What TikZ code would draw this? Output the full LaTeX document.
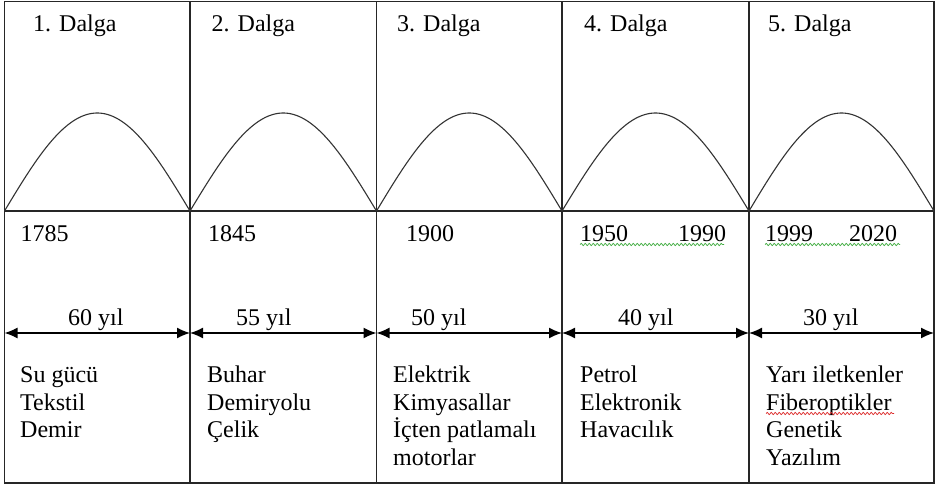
\documentclass[tikz,border=0pt]{standalone}
\usepackage{fontspec}
\setmainfont{Liberation Serif}
\usetikzlibrary{arrows.meta,decorations.pathmorphing}
\definecolor{spellgreen}{RGB}{60,170,60}
\definecolor{spellred}{RGB}{220,40,40}
\begin{document}
\begin{tikzpicture}[x=1pt,y=-1pt,
  lbl/.style={anchor=base west,inner sep=0pt,font=\fontsize{24}{27.5}\selectfont},
  gridline/.style={line width=1.4pt,draw=black!85},
  arch/.style={line width=1.1pt,draw=black!80},
  spanarrow/.style={line width=1.4pt,draw=black,{Latex[length=13pt,width=11pt]}-{Latex[length=13pt,width=11pt]}},
  squiggle/.style={line width=0.7pt,decorate,decoration={snake,segment length=4pt,amplitude=1.1pt}}]
\useasboundingbox (0,0) rectangle (935,486);
\fill[white] (0,0) rectangle (935,486);
% frame and grid
\draw[gridline] (4.5,1.5) rectangle (934,483);
\draw[gridline] (4.5,211) -- (934,211);
\foreach \xx in {190,376.5,562,749}{
  \draw[gridline] (\xx,1.5) -- (\xx,483);
}
% waves
\foreach \xa/\xb in {4.5/190,190/376.5,376.5/562,562/749,749/934}{
  \draw[arch] plot[domain=0:180,samples=80] ({\xa+(\xb-\xa)*(\x/180)},{211-98*sin(\x)});
}
% titles
\node[lbl] (t1) at (33,32) {1. Dalga};
\node[lbl] (t2) at (211.5,32) {2. Dalga};
\node[lbl] (t3) at (397,32) {3. Dalga};
\node[lbl] (t4) at (584,32) {4. Dalga};
\node[lbl] (t5) at (768,32) {5. Dalga};
% years
\node[lbl] (y1) at (20.5,242) {1785};
\node[lbl] (y2) at (208,242) {1845};
\node[lbl] (y3) at (406,242) {1900};
\node[lbl] (y4a) at (580,242) {1950};
\node[lbl] (y4b) at (678,242) {1990};
\node[lbl] (y5a) at (765,242) {1999};
\node[lbl] (y5b) at (849,242) {2020};
\draw[squiggle,spellgreen] (580,244.5) -- (724,244.5);
\draw[squiggle,spellgreen] (765,244.5) -- (900,244.5);
% spans
\coordinate (d0) at (4.5,333);
\coordinate (d1) at (190,333);
\coordinate (d2) at (376.5,333);
\coordinate (d3) at (562,333);
\coordinate (d4) at (749,333);
\coordinate (d5) at (934,333);
\draw[spanarrow] (d0) -- (d1);
\draw[spanarrow] (d1) -- (d2);
\draw[spanarrow] (d2) -- (d3);
\draw[spanarrow] (d3) -- (d4);
\draw[spanarrow] (d4) -- (d5);
\node[lbl] (s1) at (68,326) {60 yıl};
\node[lbl] (s2) at (236,326) {55 yıl};
\node[lbl] (s3) at (411,326) {50 yıl};
\node[lbl] (s4) at (618,326) {40 yıl};
\node[lbl] (s5) at (803,326) {30 yıl};
% industries
\node[lbl] (a1) at (20,383) {Su gücü};
\node[lbl] (a2) at (20,410.5) {Tekstil};
\node[lbl] (a3) at (20,438) {Demir};
\node[lbl] (b1) at (207,383) {Buhar};
\node[lbl] (b2) at (207,410.5) {Demiryolu};
\node[lbl] (b3) at (207,438) {Çelik};
\node[lbl] (c1) at (393,383) {Elektrik};
\node[lbl] (c2) at (393,410.5) {Kimyasallar};
\node[lbl] (c3) at (393,438) {İçten patlamalı};
\node[lbl] (c4) at (393,465.5) {motorlar};
\node[lbl] (e1) at (580,383) {Petrol};
\node[lbl] (e2) at (580,410.5) {Elektronik};
\node[lbl] (e3) at (580,438) {Havacılık};
\node[lbl] (f1) at (766,383) {Yarı iletkenler};
\node[lbl] (f2) at (766,410.5) {Fiberoptikler};
\node[lbl] (f3) at (766,438) {Genetik};
\node[lbl] (f4) at (766,465.5) {Yazılım};
\draw[squiggle,spellred] (766,413.5) -- (894,413.5);
\end{tikzpicture}
\end{document}
